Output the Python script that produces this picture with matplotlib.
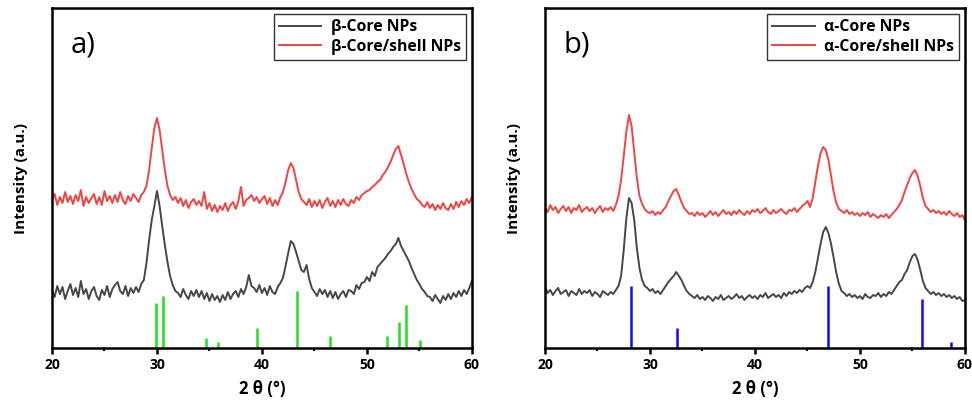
import numpy as np
import matplotlib
matplotlib.use("Agg")
import matplotlib.pyplot as plt

plt.rcParams['font.family'] = ['Open Sans', 'DejaVu Sans']

# 2-theta grid: 20 to 60 deg, step 0.25
two_theta = np.arange(0, 161) * 0.25 + 20

# (a) beta phase, intensities (a.u.)
beta_core = [
    58, 51, 62, 54, 61, 49, 57, 64,
    53, 60, 51, 67, 54, 59, 49, 57,
    61, 52, 48, 58, 53, 62, 51, 59,
    63, 66, 57, 54, 62, 52, 60, 55,
    61, 56, 64, 68, 85, 108, 128, 142,
    157, 142, 122, 103, 86, 72, 63, 57,
    55, 51, 59, 53, 49, 57, 52, 58,
    51, 57, 49, 55, 47, 54, 48, 52,
    46, 53, 48, 56, 49, 54, 57, 51,
    59, 54, 61, 73, 62, 60, 56, 63,
    55, 60, 53, 62, 56, 54, 61, 65,
    70, 82, 95, 107, 104, 96, 87, 78,
    76, 83, 69, 60, 56, 52, 59, 54,
    58, 51, 57, 50, 56, 49, 54, 57,
    51, 58, 57, 54, 63, 59, 65, 66,
    71, 67, 76, 72, 81, 84, 87, 90,
    94, 97, 101, 104, 110, 102, 97, 92,
    87, 80, 74, 68, 64, 59, 56, 52,
    51, 47, 53, 49, 45, 52, 48, 54,
    49, 55, 51, 57, 52, 58, 54, 60,
    67]
beta_shell = [
    148, 154, 143, 151, 145, 156, 146, 152,
    144, 153, 147, 158, 142, 151, 145, 150,
    154, 144, 151, 143, 157, 147, 152, 145,
    153, 146, 156, 148, 144, 152, 147, 154,
    150, 146, 153, 156, 162, 178, 200, 220,
    230, 218, 198, 178, 162, 153, 148, 151,
    145, 150, 142, 148, 140, 146, 149, 143,
    147, 142, 156, 139, 145, 137, 143, 136,
    142, 138, 145, 137, 143, 146, 139, 147,
    161, 142, 148, 150, 153, 147, 151, 145,
    149, 152, 144, 150, 142, 148, 143, 151,
    156, 166, 178, 185, 180, 168, 156, 149,
    146, 143, 149, 141, 147, 142, 148, 140,
    146, 150, 142, 147, 141, 148, 143, 149,
    144, 142, 148, 145, 151, 148, 153, 155,
    157, 158, 161, 163, 166, 168, 173, 176,
    181, 186, 193, 199, 202, 193, 184, 174,
    166, 159, 154, 149, 147, 143, 141, 146,
    140, 144, 138, 143, 139, 145, 140, 138,
    144, 139, 146, 141, 147, 143, 149, 145,
    151]

# (b) alpha phase
alpha_core = [
    62, 55, 58, 53, 57, 60, 54, 56,
    58, 52, 57, 55, 53, 59, 54, 57,
    55, 58, 52, 56, 54, 51, 57, 55,
    53, 56, 54, 58, 62, 72, 98, 130,
    150, 145, 128, 100, 80, 68, 62, 60,
    57, 59, 55, 57, 54, 58, 62, 66,
    69, 72, 76, 72, 68, 62, 57, 54,
    52, 50, 53, 49, 51, 48, 52, 50,
    47, 51, 49, 53, 48, 50, 52, 49,
    51, 54, 50, 52, 48, 51, 53, 50,
    52, 49, 53, 51, 55, 50, 52, 54,
    51, 53, 50, 55, 52, 56, 54, 57,
    55, 58, 56, 60, 62, 60, 66, 76,
    90, 104, 116, 121, 115, 104, 90, 75,
    64, 57, 55, 52, 54, 51, 53, 50,
    52, 49, 54, 51, 50, 53, 52, 55,
    51, 54, 52, 56, 54, 58, 62, 66,
    68, 74, 78, 86, 92, 94, 88, 78,
    67, 60, 57, 54, 56, 53, 55, 52,
    54, 51, 53, 50, 52, 49, 51, 47,
    48]
alpha_shell = [
    140, 136, 143, 138, 141, 135, 139, 142,
    137, 141, 135, 140, 138, 143, 136, 139,
    141, 137, 140, 135, 139, 142, 136, 140,
    138, 141, 137, 143, 152, 168, 192, 216,
    233, 222, 196, 170, 152, 144, 139, 136,
    135, 137, 133, 136, 134, 138, 141, 147,
    152, 157, 159, 153, 146, 140, 137, 134,
    135, 132, 136, 133, 135, 131, 134, 137,
    133, 136, 132, 135, 138, 134, 136, 133,
    137, 134, 138, 135, 133, 137, 134, 138,
    136, 139, 135, 137, 140, 136, 134, 138,
    135, 137, 139, 136, 134, 138, 137, 140,
    136, 139, 142, 144, 147, 141, 150, 166,
    182, 195, 201, 198, 188, 172, 156, 145,
    139, 137, 135, 138, 134, 136, 133, 135,
    132, 135, 133, 136, 131, 134, 132, 130,
    133, 131, 134, 130, 133, 136, 139, 143,
    148, 156, 163, 170, 175, 178, 172, 162,
    150, 142, 139, 136, 138, 135, 137, 134,
    136, 133, 137, 134, 132, 135, 131, 133,
    128]

# reference patterns (stick positions / heights)
beta_ref_pos = [29.9, 30.6, 34.7, 35.8, 39.5, 43.3, 46.5, 51.9, 53.1, 53.7, 55.05]
beta_ref_h = [45, 52, 10, 6, 20, 57, 12, 12, 26, 43, 8]
alpha_ref_pos = [28.2, 32.6, 47.0, 55.9, 58.7]
alpha_ref_h = [62, 20, 62, 49, 6]

core_color = '#474747'
shell_color = '#f04343'

fig = plt.figure(figsize=(9.72, 4.05), dpi=100)
ax1 = fig.add_axes([0.0535, 0.1407, 0.432, 0.8395])
ax2 = fig.add_axes([0.5607, 0.1407, 0.432, 0.8395])

panels = [
    (ax1, beta_core, beta_shell, beta_ref_pos, beta_ref_h, '#1ee01e', 'a)', 'β'),
    (ax2, alpha_core, alpha_shell, alpha_ref_pos, alpha_ref_h, '#0a0aff', 'b)', 'α'),
]

for ax, core, shell, rpos, rh, rcol, tag, phase in panels:
    ax.plot(two_theta, core, color=core_color, lw=1.4, label=phase + '-Core NPs')
    ax.plot(two_theta, shell, color=shell_color, lw=1.4, label=phase + '-Core/shell NPs')
    ax.vlines(rpos, 0, rh, colors=rcol, lw=1.8)
    ax.set_xlim(20, 60)
    ax.set_ylim(0, 340)
    ax.set_yticks([])
    ax.set_xticks([20, 30, 40, 50, 60])
    ax.set_xticks([25, 35, 45, 55], minor=True)
    ax.tick_params(axis='x', which='major', direction='out', length=4, width=1.8,
                   labelsize=10, pad=3)
    ax.tick_params(axis='x', which='minor', direction='out', length=2.5, width=1.5)
    for lbl in ax.get_xticklabels():
        lbl.set_fontweight('bold')
    for sp in ax.spines.values():
        sp.set_linewidth(1.8)
    ax.set_xlabel('2 θ (°)', fontsize=12, fontweight='bold', labelpad=6)
    ax.set_ylabel('Intensity (a.u.)', fontsize=11, fontweight='bold', labelpad=17)
    ax.text(0.075, 0.89, tag, transform=ax.transAxes, fontsize=21,
            ha='center', va='center')
    leg = ax.legend(loc='upper right', frameon=True, fancybox=False,
                    handlelength=2.7, borderaxespad=0.4, borderpad=0.3,
                    labelspacing=0.25, handletextpad=0.6,
                    prop={'weight': 'bold', 'size': 11.3})
    leg.get_frame().set_edgecolor('black')
    leg.get_frame().set_linewidth(1.0)

fig.savefig('out.png', dpi=100)
